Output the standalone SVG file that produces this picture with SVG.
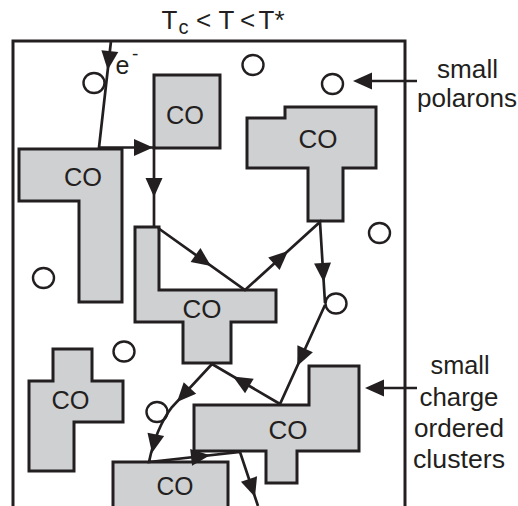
<svg xmlns="http://www.w3.org/2000/svg" xmlns:xlink="http://www.w3.org/1999/xlink" width="518" height="506" viewBox="0 0 518 506">
<style>
.sh{fill:#cfd0d2;stroke:#231f20;stroke-width:3;stroke-linejoin:miter}
.pc{fill:#fff;stroke:#231f20;stroke-width:2.4}
.ln{fill:none;stroke:#231f20;stroke-width:2.7}
.ah{fill:#231f20;stroke:none}
text{font-family:"Liberation Sans",Arial,sans-serif;fill:#231f20}
.co{font-size:25px;text-anchor:middle}
.lb{font-size:25px;text-anchor:middle}
.tt{font-size:26px}
</style>
<defs>
<path id="ah" class="ah" d="M0,0 L-19,-8.5 L-19,8.5 Z"/>
</defs>
<rect id="frame" x="13" y="41" width="392" height="480" fill="#fff" stroke="#231f20" stroke-width="3"/>
<g id="title">
<text class="tt" y="29"><tspan x="161.5">T</tspan><tspan x="178.5" y="34" font-size="20">c</tspan><tspan x="196" y="29">&lt;</tspan><tspan x="218.5">T</tspan><tspan x="240">&lt;</tspan><tspan x="258.5">T</tspan><tspan x="274.5">*</tspan></text>
</g>
<g id="nodes">
<g id="co-square"><rect class="sh" x="154" y="75" width="66" height="73"/><text class="co" x="185" y="124" textLength="38" lengthAdjust="spacingAndGlyphs">CO</text></g>
<g id="co-left-L"><polygon class="sh" points="19,149 122,149 122,302 79,302 79,201 19,201"/><text class="co" x="83" y="186" textLength="38" lengthAdjust="spacingAndGlyphs">CO</text></g>
<g id="co-top-right"><polygon class="sh" points="247,118 285,118 285,107 376,107 376,168 343,168 343,221 308,221 308,168 247,168"/><text class="co" x="318" y="148" textLength="39" lengthAdjust="spacingAndGlyphs">CO</text></g>
<g id="co-center"><polygon class="sh" points="135,227 159,227 159,290 276,290 276,322 231,322 231,363 183,363 183,322 135,322"/><text class="co" x="202" y="318" textLength="39" lengthAdjust="spacingAndGlyphs">CO</text></g>
<g id="co-cross"><polygon class="sh" points="53,349 92,349 92,381 123,381 123,422 74,422 74,471 29,471 29,381 53,381"/><text class="co" x="70.5" y="409" textLength="38" lengthAdjust="spacingAndGlyphs">CO</text></g>
<g id="co-right-bottom"><polygon class="sh" points="194,405 309,405 309,366 359,366 359,451 297,451 297,483 266,483 266,451 194,451"/><text class="co" x="288" y="439" textLength="39" lengthAdjust="spacingAndGlyphs">CO</text></g>
<g id="co-bottom"><rect class="sh" x="113" y="462" width="115" height="60"/><text class="co" x="175" y="495" textLength="37" lengthAdjust="spacingAndGlyphs">CO</text></g>
<g id="polarons">
<ellipse class="pc" cx="94" cy="83" rx="10.5" ry="10"/>
<ellipse class="pc" cx="253" cy="65" rx="10.5" ry="10"/>
<ellipse class="pc" cx="332.5" cy="84" rx="10.5" ry="10"/>
<ellipse class="pc" cx="379.5" cy="233" rx="10.5" ry="10"/>
<ellipse class="pc" cx="43.5" cy="278" rx="10.5" ry="10"/>
<ellipse class="pc" cx="336" cy="303.5" rx="10.5" ry="10"/>
<ellipse class="pc" cx="124" cy="351.5" rx="10.5" ry="10"/>
<ellipse class="pc" cx="157" cy="412" rx="10.5" ry="10"/>
</g>
<g id="electron"><text x="115.5" y="74" font-size="25">e</text><text x="132" y="60" font-size="19">-</text></g>
<g id="label-polarons"><text class="lb" x="467.5" y="78" textLength="61" lengthAdjust="spacingAndGlyphs">small</text><text class="lb" x="467" y="107" textLength="100" lengthAdjust="spacingAndGlyphs">polarons</text></g>
<g id="label-clusters"><text class="lb" x="460" y="374" textLength="59" lengthAdjust="spacingAndGlyphs">small</text><text class="lb" x="459" y="406" textLength="79" lengthAdjust="spacingAndGlyphs">charge</text><text class="lb" x="459" y="437" textLength="90" lengthAdjust="spacingAndGlyphs">ordered</text><text class="lb" x="459" y="468" textLength="92" lengthAdjust="spacingAndGlyphs">clusters</text></g>
</g>
<g id="connectors">
<path class="ln" d="M111,41 L99,147.5 L154,147.5 L154,228"/>
<path class="ln" d="M158,228 L245,290 L320,222 L325,303"/>
<path class="ln" d="M325,305 L280,404 L212,364 L172,407 Q156,428 149,462 L240,452 L258,506"/>
<line class="ln" x1="370" y1="81" x2="417" y2="81"/>
<line class="ln" x1="381" y1="388" x2="417" y2="388"/>
<use xlink:href="#ah" transform="translate(107.7,70) rotate(96.5)"/>
<use xlink:href="#ah" transform="translate(153,147.5)"/>
<use xlink:href="#ah" transform="translate(154,197) rotate(90)"/>
<use xlink:href="#ah" transform="translate(211,266) rotate(35.5)"/>
<use xlink:href="#ah" transform="translate(288,251) rotate(-42.2)"/>
<use xlink:href="#ah" transform="translate(323.7,282) rotate(86.5)"/>
<use xlink:href="#ah" transform="translate(297.3,366) rotate(114.4)"/>
<use xlink:href="#ah" transform="translate(233,376.4) rotate(-149.5)"/>
<use xlink:href="#ah" transform="translate(177,402) rotate(132.9)"/>
<use xlink:href="#ah" transform="translate(152,453) rotate(101.6)"/>
<use xlink:href="#ah" transform="translate(210,455.3) rotate(-6.3)"/>
<use xlink:href="#ah" transform="translate(255,497) rotate(71.6)"/>
<use xlink:href="#ah" transform="translate(353,81) rotate(180)"/>
<use xlink:href="#ah" transform="translate(365,388) rotate(180)"/>
</g>
</svg>
